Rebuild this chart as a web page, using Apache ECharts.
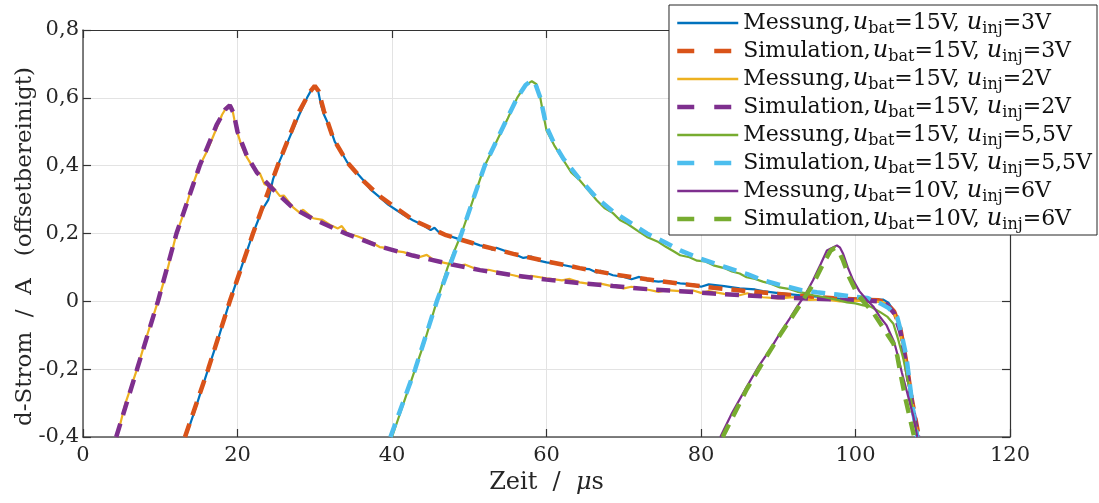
<!DOCTYPE html>
<html>
<head>
<meta charset="utf-8">
<title>d-Strom</title>
<script src="https://cdn.jsdelivr.net/npm/echarts@6/dist/echarts.min.js"></script>
<style>
  html, body { margin: 0; padding: 0; background: #fff; }
  #chart { width: 1099px; height: 503px; }
</style>
</head>
<body>
<div id="chart"></div>
<script>
// Axis ticks
const xTicks = [0, 20, 40, 60, 80, 100, 120];
const yTicks = [-0.4, -0.2, 0, 0.2, 0.4, 0.6, 0.8];

// Legend parameters per trace: kind, u_bat, u_inj
const traceKinds = ['Messung', 'Simulation', 'Messung', 'Simulation', 'Messung', 'Simulation', 'Messung', 'Simulation'];
const traceUbat = ['15', '15', '15', '15', '15', '15', '10', '10'];
const traceUinj = ['3', '3', '2', '2', '5,5', '5,5', '6', '6'];
const traceColors = ['#0072BD', '#D95319', '#EDB120', '#7E2F8E', '#77AC30', '#4DBEEE', '#7E2F8E', '#77AC30'];

// [Zeit in µs, d-Strom in A]
const mess15v3v = [[13.3,-0.40],[14.5,-0.32],[16.2,-0.20],[17.5,-0.11],[19.0,0.0],[20.5,0.10],[22.0,0.20],[23.2,0.27],[24.0,0.30],[24.6,0.36],[25.2,0.40],[26.5,0.47],[28.0,0.55],[29.0,0.60],[29.6,0.625],[30.0,0.635],[30.4,0.625],[30.8,0.58],[31.2,0.55],[32.0,0.51],[32.6,0.47],[33.2,0.45],[34.2,0.41],[35.0,0.39],[36.3,0.357],[37.2,0.33],[38.4,0.307],[39.5,0.285],[40.5,0.27],[41.5,0.255],[42.7,0.239],[44,0.225],[45,0.21],[45.5,0.217],[46,0.205],[47.1,0.195],[48.5,0.185],[50,0.176],[51.4,0.165],[52.5,0.16],[53,0.152],[53.5,0.158],[55.7,0.14],[57,0.128],[58,0.132],[59,0.12],[60,0.115],[62,0.108],[64.3,0.097],[65.5,0.095],[66.5,0.085],[67,0.09],[68.6,0.077],[70,0.072],[71,0.065],[72,0.072],[73,0.062],[74.5,0.058],[75.5,0.06],[77.3,0.053],[79,0.05],[80,0.043],[81,0.05],[83,0.045],[85,0.038],[87,0.035],[88,0.03],[90,0.024],[92,0.02],[94,0.015],[96,0.012],[99,0.006],[101,0.005],[103.6,0.005],[104.3,-0.005],[104.9,-0.027],[105.4,-0.05],[105.8,-0.077],[106.2,-0.13],[106.7,-0.19],[107.5,-0.31],[108.1,-0.40]];
const sim15v3v = [[13.2,-0.40],[16.2,-0.20],[19.0,0.0],[22.0,0.20],[25.2,0.40],[28,0.56],[29.3,0.615],[30.0,0.635],[30.5,0.62],[31.2,0.56],[32.4,0.48],[34.2,0.41],[36.3,0.355],[38.4,0.31],[42.7,0.24],[47,0.195],[51.4,0.165],[55.7,0.14],[60,0.118],[64.3,0.098],[68.6,0.08],[73,0.065],[77.3,0.052],[81.6,0.04],[86,0.03],[90,0.022],[94,0.014],[98,0.008],[101,0.005],[103,0.003],[104,-0.005],[105,-0.03],[105.8,-0.08],[106.5,-0.17],[107.3,-0.29],[108.2,-0.40]];
const mess15v2v = [[4.4,-0.40],[5.5,-0.30],[7.0,-0.20],[8.3,-0.10],[9.7,0.0],[11.0,0.10],[12.1,0.20],[13.2,0.27],[14,0.33],[15.1,0.40],[16,0.44],[17.1,0.50],[18,0.55],[18.6,0.573],[19.0,0.578],[19.3,0.57],[19.6,0.535],[19.9,0.504],[20.5,0.46],[21.2,0.425],[22.0,0.395],[22.9,0.377],[23.5,0.345],[24.6,0.336],[25.5,0.31],[26,0.312],[27.2,0.277],[28,0.262],[28.5,0.27],[29.8,0.245],[31,0.24],[32,0.225],[33,0.215],[33.5,0.222],[34.2,0.2],[35.5,0.192],[36.5,0.183],[37.5,0.172],[38.4,0.16],[39.5,0.157],[40.5,0.148],[41.5,0.145],[42.7,0.136],[43.5,0.13],[44.5,0.137],[45.5,0.12],[47.1,0.112],[48.5,0.105],[49.5,0.108],[51.4,0.091],[52.5,0.093],[54,0.085],[55.7,0.077],[57,0.07],[58,0.075],[60,0.068],[62,0.062],[63,0.066],[64.3,0.056],[66,0.05],[67,0.052],[68.6,0.044],[70,0.038],[71,0.043],[73,0.035],[74.5,0.028],[75.5,0.033],[77.3,0.03],[79,0.032],[80,0.025],[81,0.03],[83,0.022],[85,0.018],[86,0.024],[88,0.012],[90,0.009],[92,0.012],[94,0.004],[96,0.006],[98,0.0],[100,0.002],[102,0.0],[103.5,-0.002],[104.3,-0.01],[105,-0.035],[105.6,-0.07],[106.2,-0.14],[106.8,-0.22],[107.5,-0.32],[108.1,-0.40]];
const sim15v2v = [[4.3,-0.40],[7.0,-0.20],[9.7,0.0],[12.1,0.20],[15.1,0.40],[17.3,0.52],[18.4,0.565],[19.0,0.578],[19.5,0.555],[20.0,0.50],[21.2,0.43],[22.5,0.38],[24.6,0.33],[27.2,0.275],[29.8,0.243],[34.2,0.198],[38.4,0.162],[42.7,0.135],[47.1,0.112],[51.4,0.092],[55.7,0.077],[60,0.064],[64.3,0.054],[68.6,0.045],[73,0.036],[77.3,0.03],[81.6,0.023],[86,0.017],[90,0.012],[94,0.008],[98,0.005],[101,0.003],[103,0.0],[104,-0.008],[105,-0.035],[105.8,-0.09],[106.5,-0.18],[107.3,-0.30],[108.1,-0.40]];
const mess15v55v = [[40.0,-0.40],[41.5,-0.30],[43.0,-0.20],[44.2,-0.12],[45.8,0.0],[47.2,0.10],[49.0,0.20],[50.5,0.30],[52.0,0.40],[53.5,0.47],[55,0.54],[56.2,0.60],[57.2,0.635],[58.1,0.649],[58.7,0.64],[59.2,0.60],[59.6,0.55],[60,0.504],[61,0.46],[62.2,0.416],[63.2,0.38],[64.3,0.357],[65.3,0.33],[66.5,0.298],[67.5,0.275],[68.6,0.26],[69.5,0.24],[70.5,0.228],[72,0.205],[73,0.19],[74.5,0.175],[75.5,0.16],[76.5,0.147],[77.3,0.136],[78.5,0.13],[79.5,0.12],[80.5,0.118],[81.6,0.106],[83,0.098],[84,0.088],[85,0.082],[85.9,0.071],[87,0.066],[88,0.058],[89,0.052],[90.2,0.041],[91.5,0.036],[92.5,0.028],[93.5,0.024],[94.5,0.018],[96,0.012],[97.5,0.005],[98.9,-0.003],[100,-0.006],[101,-0.012],[102,-0.016],[103.2,-0.032],[104.1,-0.045],[104.9,-0.066],[105.5,-0.11],[106.2,-0.17],[106.9,-0.25],[107.5,-0.33],[108,-0.40]];
const sim15v55v = [[39.8,-0.40],[43.0,-0.20],[45.8,0.0],[49.0,0.20],[52.0,0.40],[54.5,0.52],[56.2,0.60],[57.3,0.638],[58.0,0.65],[58.5,0.645],[59.2,0.60],[60,0.515],[61,0.465],[62.2,0.42],[64.3,0.36],[66.5,0.305],[68.6,0.265],[71,0.23],[73,0.2],[75,0.178],[77.3,0.15],[80,0.125],[83,0.102],[86,0.08],[88,0.062],[90,0.05],[93,0.033],[95,0.027],[97.6,0.02],[100,0.013],[101.5,0.01],[103.2,-0.006],[104.3,-0.02],[105.4,-0.046],[106,-0.1],[106.6,-0.165],[107.5,-0.33],[108,-0.40]];
const mess10v6v = [[82.5,-0.40],[84,-0.33],[85.9,-0.253],[87.5,-0.19],[89,-0.14],[90.2,-0.095],[91.5,-0.05],[92.4,-0.017],[93.5,0.02],[94.5,0.062],[95.5,0.11],[96.3,0.15],[97.0,0.158],[97.6,0.165],[98.0,0.158],[98.4,0.14],[99,0.1],[99.7,0.062],[100.5,0.03],[101.5,0.003],[102.3,-0.015],[103.2,-0.047],[104,-0.07],[104.5,-0.095],[105,-0.12],[105.4,-0.154],[106,-0.21],[106.7,-0.27],[107.5,-0.34],[108,-0.40]];
const sim10v6v = [[82.8,-0.40],[85.9,-0.26],[88,-0.18],[90.2,-0.1],[92.4,-0.025],[94.5,0.05],[95.8,0.11],[96.8,0.15],[97.3,0.157],[97.8,0.15],[98.4,0.12],[99.2,0.07],[100.2,0.023],[101.2,-0.005],[102.2,-0.03],[103.2,-0.065],[104.2,-0.1],[104.9,-0.124],[105.4,-0.16],[105.8,-0.21],[106.5,-0.29],[107.1,-0.35],[107.6,-0.40]];

const traceData = [mess15v3v, sim15v3v, mess15v2v, sim15v2v, mess15v55v, sim15v55v, mess10v6v, sim10v6v];

const FONT = '"DejaVu Serif", "Liberation Serif", serif';
const TEXT = '#262626';

const traceNames = traceKinds.map((k, i) => k + ', u_bat=' + traceUbat[i] + 'V, u_inj=' + traceUinj[i] + 'V');

const series = traceData.map((d, i) => {
  const dashed = traceKinds[i] === 'Simulation';
  return {
    name: traceNames[i],
    type: 'line',
    data: d,
    symbol: 'none',
    smooth: false,
    clip: true,
    animation: false,
    lineStyle: {
      color: traceColors[i],
      width: dashed ? 4.5 : 2.2,
      type: dashed ? [14, 9] : 'solid'
    },
    itemStyle: { color: traceColors[i] },
    z: 2 + i
  };
});

// Legend icons: line only, no marker
const legendData = traceNames.map((n, i) => ({
  name: n,
  itemStyle: { opacity: 0, borderWidth: 0 },
  lineStyle: traceKinds[i] === 'Simulation'
    ? { type: [17, 20], width: 4.5, color: traceColors[i] }
    : { type: 'solid', width: 2.5, color: traceColors[i] }
}));

function fmtComma(v) {
  const r = Math.round(v * 10) / 10;
  if (r === 0) return '0';
  return r.toFixed(1).replace('.', ',');
}

const chart = echarts.init(document.getElementById('chart'), null, { renderer: 'canvas' });
chart.setOption({
  backgroundColor: '#ffffff',
  animation: false,
  textStyle: { fontFamily: FONT },
  grid: { left: 83, right: 89, top: 30, bottom: 66, containLabel: false },
  xAxis: [{
    type: 'value', min: xTicks[0], max: xTicks[xTicks.length - 1], interval: 20,
    position: 'bottom',
    name: '{n|Zeit  /  }{m|μ}{n|s}',
    nameLocation: 'middle', nameGap: 33,
    nameTextStyle: {
      rich: {
        n: { fontFamily: FONT, fontSize: 24, color: TEXT },
        m: { fontFamily: FONT, fontSize: 24, color: TEXT, fontStyle: 'italic' }
      }
    },
    axisLine: { show: true, onZero: false, lineStyle: { color: '#555', width: 1.5 } },
    axisTick: { show: true, inside: true, length: 8, lineStyle: { color: '#333', width: 1.2 } },
    axisLabel: { fontFamily: FONT, fontSize: 21, color: TEXT, margin: 8 },
    splitLine: { show: true, lineStyle: { color: '#e3e3e3', width: 1 } }
  }, {
    type: 'value', min: xTicks[0], max: xTicks[xTicks.length - 1], interval: 20,
    position: 'top',
    axisLine: { show: true, onZero: false, lineStyle: { color: '#333', width: 1.2 } },
    axisTick: { show: true, inside: true, length: 8, lineStyle: { color: '#333', width: 1.2 } },
    axisLabel: { show: false },
    splitLine: { show: false }
  }],
  yAxis: [{
    type: 'value', min: yTicks[0], max: yTicks[yTicks.length - 1], interval: 0.2,
    position: 'left',
    name: 'd-Strom  /  A   (offsetbereinigt)',
    nameLocation: 'middle', nameGap: 46, nameRotate: 90,
    nameMoveOverlap: false,
    nameTextStyle: { fontFamily: FONT, fontSize: 23, color: TEXT, padding: [0, 26, 0, 0] },
    axisLine: { show: true, onZero: false, lineStyle: { color: '#555', width: 1.5 } },
    axisTick: { show: true, inside: true, length: 8, lineStyle: { color: '#333', width: 1.2 } },
    axisLabel: { fontFamily: FONT, fontSize: 21, color: TEXT, margin: 4, formatter: fmtComma },
    splitLine: { show: true, lineStyle: { color: '#e3e3e3', width: 1 } }
  }, {
    type: 'value', min: yTicks[0], max: yTicks[yTicks.length - 1], interval: 0.2,
    position: 'right',
    axisLine: { show: true, onZero: false, lineStyle: { color: '#333', width: 1.2 } },
    axisTick: { show: true, inside: true, length: 8, lineStyle: { color: '#333', width: 1.2 } },
    axisLabel: { show: false },
    splitLine: { show: false }
  }],
  legend: {
    orient: 'vertical',
    right: 2, top: 5,
    padding: [6, 5, 2, 6],
    itemGap: 2,
    itemWidth: 61, itemHeight: 14,
    itemTextGap: 5,
    backgroundColor: '#ffffff',
    borderColor: '#262626', borderWidth: 1, borderRadius: 0,
    selectedMode: false,
    data: legendData,
    formatter: function (name) {
      const i = traceNames.indexOf(name);
      return '{t|' + traceKinds[i] + ',}{sp| }{i|u}{s|bat}{t|=' + traceUbat[i] + 'V, }{i|u}{s|inj}{t|=' + traceUinj[i] + 'V}';
    },
    textStyle: {
      color: '#111',
      fontFamily: FONT,
      fontSize: 22,
      rich: {
        t: { fontFamily: FONT, fontSize: 22, color: '#111', lineHeight: 28, verticalAlign: 'middle' },
        sp: { fontFamily: FONT, fontSize: 6, lineHeight: 28 },
        i: { fontFamily: FONT, fontSize: 24, color: '#111', fontStyle: 'italic', lineHeight: 28, verticalAlign: 'middle' },
        s: { fontFamily: FONT, fontSize: 16, color: '#111', lineHeight: 14, verticalAlign: 'bottom' }
      }
    }
  },
  series: series
});
</script>
</body>
</html>
